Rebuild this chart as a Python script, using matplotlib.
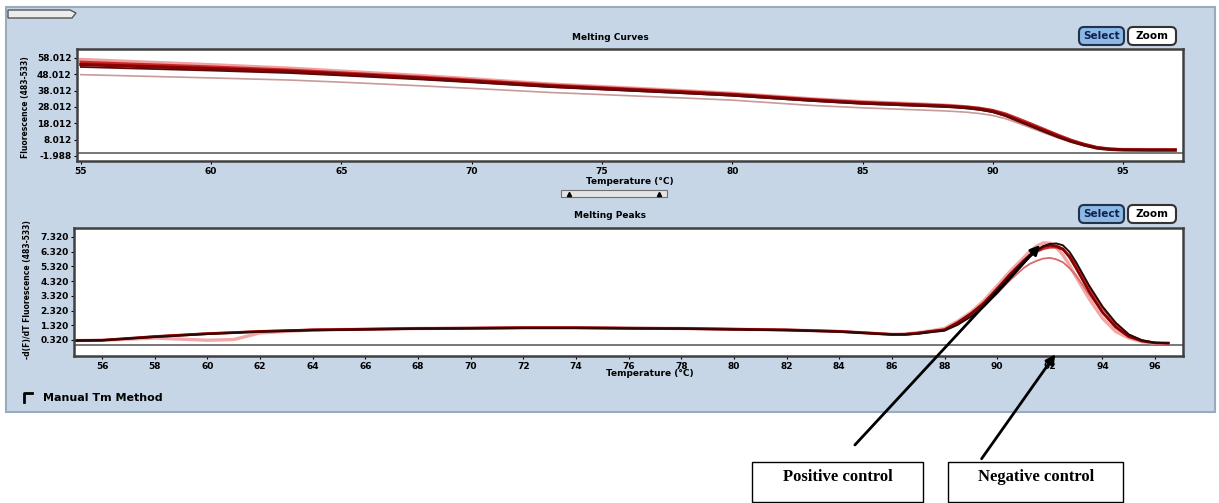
import matplotlib
matplotlib.use('Agg')
import matplotlib.pyplot as plt
from matplotlib.patches import Rectangle, FancyBboxPatch, Polygon

# Melting curves (fluorescence vs temperature)
temps_mc = [55, 57, 60, 63, 65, 68, 70, 73, 75, 78, 80, 83, 85, 87, 88, 88.5, 89, 89.5,
            90, 90.5, 91, 91.5, 92, 92.5, 93, 93.5, 94, 94.5, 95, 96, 97]
mc_1 = [54.0, 53.0, 51.5, 49.8, 48.2, 45.7, 43.8, 40.8, 39.3, 37.0, 35.4, 32.2, 30.4, 29.2, 28.6, 28.2,
        27.6, 26.7, 25.3, 22.8, 19.5, 16.4, 13.2, 10.0, 7.1, 4.8, 2.9, 2.1, 1.8, 1.7, 1.7]
mc_2 = [55.5, 54.3, 52.6, 50.7, 49.0, 46.4, 44.5, 41.5, 39.9, 37.6, 35.9, 32.7, 30.9, 29.6, 29.0, 28.6,
        28.1, 27.3, 26.0, 23.8, 20.7, 17.5, 14.2, 10.9, 7.8, 5.3, 3.3, 2.3, 1.9, 1.7, 1.7]
mc_3 = [57.0, 55.7, 53.8, 51.7, 49.9, 47.2, 45.2, 42.0, 40.4, 38.0, 36.3, 33.0, 31.2, 29.9, 29.2, 28.7,
        28.0, 27.0, 25.4, 23.0, 19.9, 16.7, 13.5, 10.3, 7.4, 5.0, 3.1, 2.2, 1.9, 1.8, 1.8]
mc_4 = [52.5, 51.6, 50.3, 48.8, 47.3, 44.9, 43.1, 40.2, 38.7, 36.5, 34.9, 31.8, 30.0, 28.8, 28.2, 27.8,
        27.2, 26.3, 24.9, 22.6, 19.3, 16.0, 12.7, 9.6, 6.8, 4.6, 2.8, 2.0, 1.7, 1.6, 1.6]
mc_5 = [47.8, 47.0, 45.8, 44.5, 43.2, 41.0, 39.4, 36.9, 35.6, 33.6, 32.2, 29.0, 27.5, 26.3, 25.7, 25.3,
        24.8, 24.0, 22.8, 20.8, 18.0, 15.0, 12.0, 9.1, 6.5, 4.4, 2.8, 2.0, 1.7, 1.6, 1.6]

# Melting peaks (-dF/dT vs temperature)
temps_mp = [55, 56, 58, 60, 61, 62, 64, 66, 68, 70, 72, 74, 76, 78, 80, 82, 84, 85, 86, 86.5, 87, 87.5,
            88, 88.5, 89, 89.5, 90, 90.5, 91, 91.25, 91.5, 91.75, 92, 92.25, 92.5, 92.75, 93, 93.5,
            94, 94.5, 95, 95.5, 96, 96.5]
mp_1 = [0.28, 0.30, 0.45, 0.30, 0.35, 0.80, 1.00, 1.05, 1.10, 1.12, 1.15, 1.15, 1.12, 1.10, 1.05, 1.00,
        0.90, 0.80, 0.70, 0.72, 0.82, 0.95,
        1.10, 1.60, 2.20, 3.00, 4.00, 5.00, 5.90, 6.35, 6.70, 6.92, 6.90, 6.60, 6.10, 5.40, 4.60, 3.10,
        1.80, 0.90, 0.45, 0.20, 0.10, 0.10]
mp_2 = [0.28, 0.30, 0.55, 0.75, 0.82, 0.90, 1.00, 1.05, 1.10, 1.12, 1.15, 1.15, 1.12, 1.10, 1.05, 1.00,
        0.90, 0.80, 0.70, 0.70, 0.78, 0.90,
        1.00, 1.50, 2.10, 2.80, 3.80, 4.80, 5.70, 6.10, 6.40, 6.65, 6.75, 6.70, 6.50, 5.95, 5.20, 3.60,
        2.20, 1.20, 0.55, 0.25, 0.12, 0.10]
mp_3 = [0.28, 0.30, 0.52, 0.72, 0.80, 0.88, 0.98, 1.03, 1.08, 1.10, 1.13, 1.13, 1.10, 1.08, 1.03, 0.98,
        0.88, 0.78, 0.68, 0.68, 0.74, 0.85,
        0.95, 1.35, 1.90, 2.60, 3.50, 4.50, 5.50, 6.00, 6.40, 6.70, 6.85, 6.88, 6.75, 6.30, 5.60, 4.00,
        2.60, 1.50, 0.70, 0.30, 0.13, 0.10]
mp_4 = [0.28, 0.30, 0.55, 0.75, 0.82, 0.90, 1.00, 1.05, 1.10, 1.12, 1.15, 1.15, 1.12, 1.10, 1.05, 1.00,
        0.90, 0.80, 0.70, 0.72, 0.80, 0.92,
        1.00, 1.40, 2.00, 2.70, 3.50, 4.40, 5.20, 5.50, 5.70, 5.85, 5.90, 5.80, 5.60, 5.20, 4.70, 3.40,
        2.20, 1.20, 0.55, 0.25, 0.12, 0.10]
mp_5 = [0.28, 0.30, 0.56, 0.76, 0.83, 0.91, 1.01, 1.06, 1.11, 1.13, 1.16, 1.16, 1.13, 1.11, 1.06, 1.01,
        0.91, 0.81, 0.71, 0.73, 0.81, 0.93,
        1.05, 1.50, 2.10, 2.90, 3.80, 4.70, 5.60, 6.00, 6.30, 6.50, 6.60, 6.60, 6.45, 6.05, 5.50, 3.90,
        2.50, 1.40, 0.65, 0.30, 0.13, 0.10]

mc_ticks = [-1.988, 8.012, 18.012, 28.012, 38.012, 48.012, 58.012]
mc_xticks = [55, 60, 65, 70, 75, 80, 85, 90, 95]
mp_ticks = [0.32, 1.32, 2.32, 3.32, 4.32, 5.32, 6.32, 7.32]
mp_xticks = list(range(56, 97, 2))

W, H = 1219, 503
fig = plt.figure(figsize=(W / 100, H / 100), dpi=100)
fig.patch.set_facecolor('white')


def add_ax(l, t, r, b, **kw):
    return fig.add_axes([l / W, 1 - b / H, (r - l) / W, (b - t) / H], **kw)


# background panel
bg = add_ax(0, 0, W, H, zorder=-1)
bg.set_xlim(0, W)
bg.set_ylim(H, 0)
bg.axis('off')
bg.add_patch(Rectangle((6, 7), 1209, 405, facecolor='#c6d6e6', edgecolor='#9aabbe', lw=1.5))


def style_axes(ax):
    for s in ax.spines.values():
        s.set_color('#404040')
        s.set_linewidth(1.8)
    ax.tick_params(direction='out', length=2, width=0.8, labelsize=6.5, pad=2)
    for lab in ax.get_xticklabels() + ax.get_yticklabels():
        lab.set_fontweight('bold')


# Melting curves panel
ax1 = add_ax(77, 49, 1183, 161)
ax1.axhline(0, color='#606060', lw=1.2, zorder=1)
mc_styles = [(mc_5, '#c99a9a', 1.2), (mc_3, '#f0a0a0', 2.6), (mc_2, '#c82828', 2.0),
             (mc_1, '#8b0000', 2.4), (mc_4, '#5a0a0a', 1.3)]
for ys, c, lw in mc_styles:
    ax1.plot(temps_mc, ys, color=c, lw=lw, zorder=2)
ax1.set_xlim(54.85, 97.3)
ax1.set_ylim(-5.05, 63.5)
ax1.set_xticks(mc_xticks)
ax1.set_yticks(mc_ticks)
ax1.set_yticklabels([f'{v:.3f}' for v in mc_ticks])
style_axes(ax1)

# Melting peaks panel
ax2 = add_ax(74, 228, 1183, 356)
ax2.axhline(0, color='#606060', lw=1.2, zorder=1)
mp_styles = [(mp_1, '#f2a8a8', 2.4), (mp_4, '#d86a6a', 1.3), (mp_5, '#c83030', 1.5),
             (mp_2, '#8b0000', 2.0), (mp_3, '#2a0808', 1.4)]
for ys, c, lw in mp_styles:
    ax2.plot(temps_mp, ys, color=c, lw=lw, zorder=2)
ax2.set_xlim(54.93, 97.06)
ax2.set_ylim(-0.77, 7.93)
ax2.set_xticks(mp_xticks)
ax2.set_yticks(mp_ticks)
ax2.set_yticklabels([f'{v:.3f}' for v in mp_ticks])
style_axes(ax2)

# overlay for UI elements and annotations
ov = add_ax(0, 0, W, H, zorder=10)
ov.set_xlim(0, W)
ov.set_ylim(H, 0)
ov.axis('off')

bold = dict(fontweight='bold', ha='center', va='center', color='black')
ov.text(610, 37, 'Melting Curves', fontsize=6.5, **bold)
ov.text(610, 216, 'Melting Peaks', fontsize=6.5, **bold)
ov.text(630, 182, 'Temperature (°C)', fontsize=6.5, **bold)
ov.text(650, 374, 'Temperature (°C)', fontsize=6.5, **bold)
ov.text(26, 107, 'Fluorescence (483-533)', fontsize=5.5, rotation=90, **bold)
ov.text(28, 290, '-d(F)/dT Fluorescence (483-533)', fontsize=5.5, rotation=90, **bold)

# tab at top-left
ov.add_patch(Polygon([(8, 10), (70, 10), (76, 13), (72, 18), (8, 18)], closed=True,
                     facecolor='#ececec', edgecolor='#555555', lw=1))

# scroll widget
ov.add_patch(Rectangle((561, 190), 106, 7, facecolor='#e4e4e4', edgecolor='#707070', lw=0.8))
ov.plot([569, 659], [194, 194], ls='none', marker='^', ms=3, color='black')

# Select / Zoom buttons
for y0 in (27, 205):
    ov.add_patch(FancyBboxPatch((1079, y0), 45, 18, boxstyle='round,pad=0,rounding_size=5',
                                facecolor='#8cb8e6', edgecolor='#22324d', lw=1.5))
    ov.add_patch(FancyBboxPatch((1128, y0), 48, 18, boxstyle='round,pad=0,rounding_size=5',
                                facecolor='white', edgecolor='#333333', lw=1.5))
    ov.text(1101.5, y0 + 9, 'Select', fontsize=7.5, fontweight='bold', ha='center', va='center',
            color='#10204a')
    ov.text(1152, y0 + 9, 'Zoom', fontsize=7.5, fontweight='bold', ha='center', va='center')

# Manual Tm checkbox
ov.plot([24, 24, 32], [402, 393, 393], color='black', lw=2)
ov.text(43, 398, 'Manual Tm Method', fontsize=8, fontweight='bold', ha='left', va='center')

# annotation arrows and boxes
arrow = dict(arrowstyle='-|>', color='black', lw=2, mutation_scale=14)
ov.annotate('', xy=(1042, 243), xytext=(853, 447), arrowprops=arrow)
ov.annotate('', xy=(1057, 352), xytext=(980, 461), arrowprops=arrow)
ov.add_patch(Rectangle((752, 462), 171, 40, fill=False, edgecolor='black', lw=1))
ov.add_patch(Rectangle((948, 462), 175, 40, fill=False, edgecolor='black', lw=1))
serif = dict(family='Liberation Serif', fontweight='bold', fontsize=12, va='center', ha='center')
ov.text(838, 477, 'Positive control', **serif)
ov.text(1036, 477, 'Negative control', **serif)

fig.savefig('out.png', dpi=100)
